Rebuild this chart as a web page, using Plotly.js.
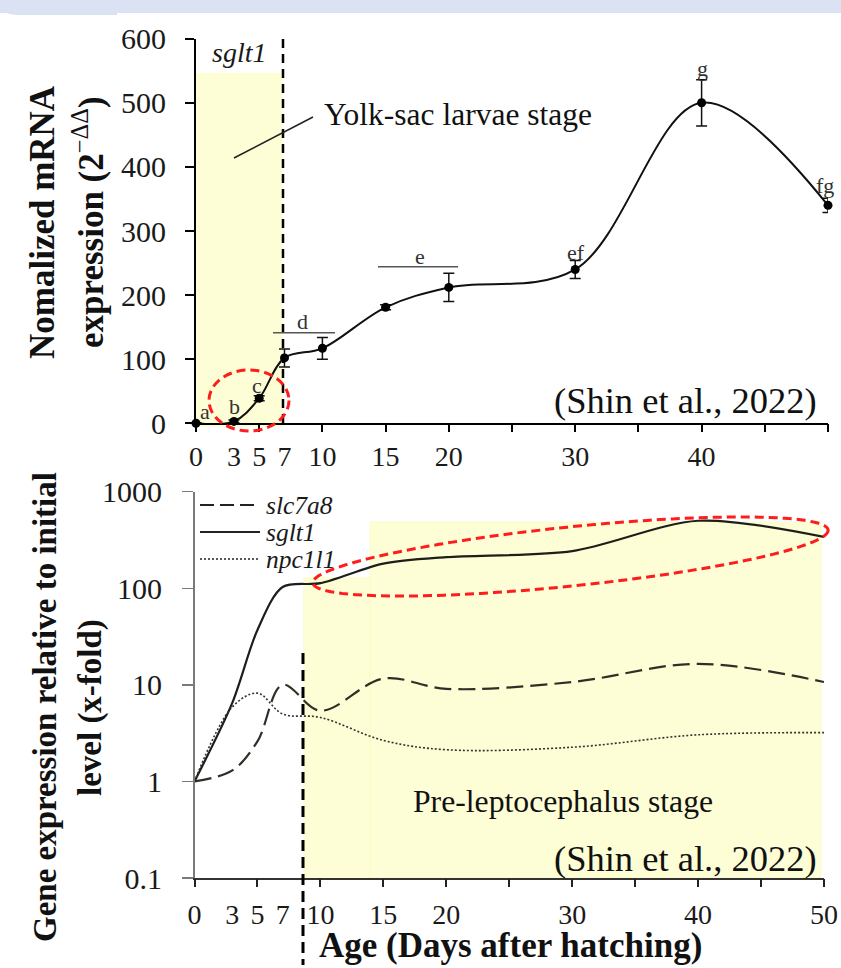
<!DOCTYPE html>
<html>
<head>
<meta charset="utf-8">
<script src="https://cdn.plot.ly/plotly-3.0.1.min.js"></script>
<style>html,body{margin:0;padding:0;background:#fff;}#chart{width:841px;height:968px;}</style>
</head>
<body>
<div id="chart"></div>
<script>
// ---------- DATA ----------
const days = [0, 3, 5, 7, 10, 15, 20, 30, 40, 50];
// Top panel: normalized sglt1 mRNA expression (2^-ddCt)
const sglt1Norm = [0, 3, 39, 102, 117, 181, 212, 240, 500, 340];
const sglt1NormErr = [1, 2, 4, 14, 17, 4, 22, 14, 36, 11];
const sigLetters = ['a', 'b', 'c', 'd', 'e', 'ef', 'g', 'fg'];
// Bottom panel: fold change relative to initial level
const geneNames = ['slc7a8', 'sglt1', 'npc1l1'];
const slc7a8Fold = [1, 1.3, 2.6, 10, 5.4, 11.6, 9.1, 10.7, 16.5, 10.7];
const sglt1Fold = [1, 6.5, 37, 103, 113, 180, 210, 243, 500, 340];
const npc1l1Fold = [1, 5.9, 8.2, 5.0, 4.6, 2.66, 2.13, 2.26, 3.04, 3.2];
// Tick labels
const dayTickVals = [0, 3, 5, 7, 10, 15, 20, 30, 40, 50];
const dayTickText = ['0', '3', '5', '7', '10', '15', '20', '30', '40', '50'];
const dayTickMarks = [0, 5, 10, 15, 20, 25, 30, 35, 40, 45, 50];
const normTickVals = [0, 100, 200, 300, 400, 500, 600];
const foldTickVals = [0.1, 1, 10, 100, 1000];
const foldTickText = ['0.1', '1', '10', '100', '1000'];

// ---------- LAYOUT HELPERS ----------
const W = 841, H = 968;
const X = px => px / W;
const Y = py => 1 - py / H;
const SERIF = 'Liberation Serif';
const YELLOW = '#fefed6';

// letter label positions (pixel space)
const letterPos = [[205, 411], [234, 406], [257, 385], [302, 322], [420, 256], [576, 252], [702, 69], [825, 185]];

const traces = [
  {
    x: days, y: sglt1Norm, xaxis: 'x', yaxis: 'y', type: 'scatter', mode: 'lines+markers',
    line: {color: '#111', width: 2, shape: 'spline', smoothing: 1},
    marker: {color: '#000', size: 9},
    error_y: {type: 'data', array: sglt1NormErr, visible: true, color: '#111', thickness: 1.5, width: 5.5},
    cliponaxis: false, showlegend: false, hoverinfo: 'x+y'
  },
  {
    x: days, y: slc7a8Fold, name: geneNames[0], xaxis: 'x2', yaxis: 'y2', type: 'scatter', mode: 'lines',
    line: {color: '#2f2f28', width: 2.2, dash: '17px,7px', shape: 'spline', smoothing: 1},
    cliponaxis: false, showlegend: false
  },
  {
    x: days, y: sglt1Fold, name: geneNames[1], xaxis: 'x2', yaxis: 'y2', type: 'scatter', mode: 'lines',
    line: {color: '#1e1e1a', width: 2.2, shape: 'spline', smoothing: 0.85},
    cliponaxis: false, showlegend: false
  },
  {
    x: days, y: npc1l1Fold, name: geneNames[2], xaxis: 'x2', yaxis: 'y2', type: 'scatter', mode: 'lines',
    line: {color: '#333', width: 1.6, dash: '2px,2px', shape: 'spline', smoothing: 1},
    cliponaxis: false, showlegend: false
  },
  // empty traces to register the tick-mark overlay axes
  {x: [], y: [], xaxis: 'x3', yaxis: 'y', type: 'scatter', showlegend: false, hoverinfo: 'skip'},
  {x: [], y: [], xaxis: 'x4', yaxis: 'y2', type: 'scatter', showlegend: false, hoverinfo: 'skip'}
];

const shapes = [];
// header band
shapes.push({type: 'rect', xref: 'paper', yref: 'paper', x0: 0, x1: 1, y0: Y(13), y1: 1, fillcolor: '#dae2f3', line: {width: 0}, layer: 'below'});
shapes.push({type: 'path', xref: 'paper', yref: 'paper', layer: 'below', fillcolor: '#dae2f3', line: {width: 0},
  path: `M ${X(0)} ${Y(0)} L ${X(117)} ${Y(0)} L ${X(117)} ${Y(15)} L ${X(18)} ${Y(15)} Q ${X(4)} ${Y(15)} ${X(0)} ${Y(8)} Z`});
// top yolk-sac shaded area
shapes.push({type: 'rect', xref: 'paper', yref: 'paper', x0: X(196), x1: X(283), y0: Y(427), y1: Y(72.7), fillcolor: YELLOW, line: {width: 0}, layer: 'below'});
// bottom pre-leptocephalus shaded areas
shapes.push({type: 'rect', xref: 'paper', yref: 'paper', x0: X(303), x1: X(821), y0: Y(878), y1: Y(577), fillcolor: YELLOW, line: {width: 0}, layer: 'below'});
shapes.push({type: 'rect', xref: 'paper', yref: 'paper', x0: X(370), x1: X(821), y0: Y(878), y1: Y(522), fillcolor: YELLOW, line: {color: '#fbf7b0', width: 0.6}, layer: 'below'});
// stage divider dashed lines
shapes.push({type: 'line', xref: 'paper', yref: 'paper', x0: X(283), x1: X(283), y0: Y(39), y1: Y(423), line: {color: '#000', width: 2.5, dash: '9px,6px'}});
shapes.push({type: 'line', xref: 'paper', yref: 'paper', x0: X(303), x1: X(303), y0: Y(653), y1: Y(965), line: {color: '#000', width: 3, dash: '11px,6px'}});
// significance bracket lines
shapes.push({type: 'line', xref: 'paper', yref: 'paper', x0: X(273), x1: X(335), y0: Y(332.7), y1: Y(332.7), line: {color: '#555', width: 1.5}});
shapes.push({type: 'line', xref: 'paper', yref: 'paper', x0: X(378), x1: X(458), y0: Y(266.7), y1: Y(266.7), line: {color: '#555', width: 1.5}});
// pointer line for yolk-sac label
shapes.push({type: 'line', xref: 'paper', yref: 'paper', x0: X(234), x1: X(313), y0: Y(158), y1: Y(117), line: {color: '#222', width: 1.5}});
// red dashed ellipse (top)
shapes.push({type: 'circle', xref: 'paper', yref: 'paper', x0: X(209), x1: X(289), y0: Y(431), y1: Y(370), line: {color: '#ff1c1c', width: 3, dash: '9px,5px'}});
// red dashed tilted ellipse (bottom)
(function () {
  const cx = 570.5, cy = 556.5, a = 259, b = 29.5, th = Math.atan2(-53, 515);
  let p = '';
  for (let i = 0; i <= 120; i++) {
    const t = 2 * Math.PI * i / 120;
    const ux = a * Math.cos(t), vy = b * Math.sin(t);
    const px = cx + ux * Math.cos(th) - vy * Math.sin(th);
    const py = cy + ux * Math.sin(th) + vy * Math.cos(th);
    p += (i === 0 ? 'M ' : ' L ') + X(px).toFixed(5) + ' ' + Y(py).toFixed(5);
  }
  shapes.push({type: 'path', xref: 'paper', yref: 'paper', path: p + ' Z', line: {color: '#ff1c1c', width: 3, dash: '9px,5px'}});
})();
// custom legend samples
const legendRows = [505, 532, 559];
const legendDash = ['14px,6px', 'solid', '2px,2px'];
const legendWidth = [2, 2, 1.5];
legendRows.forEach((ry, i) => {
  shapes.push({type: 'line', xref: 'paper', yref: 'paper', x0: X(200), x1: X(260), y0: Y(ry), y1: Y(ry), line: {color: '#222', width: legendWidth[i], dash: legendDash[i]}});
});

const annotations = [];
const ann = (text, px, py, opts) => Object.assign({text, xref: 'paper', yref: 'paper', x: X(px), y: Y(py), showarrow: false, xanchor: 'center', yanchor: 'middle', font: {family: SERIF, size: 28, color: '#1a1a1a'}}, opts || {});
// axis titles (top)
annotations.push(ann('<b>Nomalized mRNA</b>', 43, 222, {textangle: -90, font: {family: SERIF, size: 35, color: '#111'}}));
annotations.push(ann('<b>expression (2</b><sup>−ΔΔ</sup><b>)</b>', 89, 222, {textangle: -90, font: {family: SERIF, size: 35, color: '#111'}}));
// axis titles (bottom)
annotations.push(ann('<b>Gene expression relative to initial</b>', 45, 707, {textangle: -90, font: {family: SERIF, size: 33, color: '#111'}}));
annotations.push(ann('<b>level (x-fold)</b>', 90, 708, {textangle: -90, font: {family: SERIF, size: 33, color: '#111'}}));
annotations.push(ann('<b>Age (Days after hatching)</b>', 510, 945, {font: {family: SERIF, size: 35, color: '#111'}}));
// top panel texts
annotations.push(ann('<i>sglt1</i>', 239, 52, {font: {family: SERIF, size: 28, color: '#1a1a1a'}}));
annotations.push(ann('Yolk-sac larvae stage', 322, 115, {xanchor: 'left', font: {family: SERIF, size: 31.5, color: '#111'}}));
annotations.push(ann('(Shin et al., 2022)', 819, 401, {xanchor: 'right', font: {family: SERIF, size: 36.5, color: '#111'}}));
sigLetters.forEach((L, i) => annotations.push(ann(L, letterPos[i][0], letterPos[i][1], {font: {family: SERIF, size: 22, color: '#333'}})));
// bottom panel texts
annotations.push(ann('Pre-leptocephalus stage', 411, 801, {xanchor: 'left', font: {family: SERIF, size: 31.7, color: '#111'}}));
annotations.push(ann('(Shin et al., 2022)', 819, 858, {xanchor: 'right', font: {family: SERIF, size: 36.5, color: '#111'}}));
legendRows.forEach((ry, i) => annotations.push(ann('<i>' + geneNames[i] + '</i>', 264, ry, {xanchor: 'left', font: {family: SERIF, size: 25.5, color: '#1a1a1a'}})));

const baseX = {range: [0, 50], showgrid: false, zeroline: false, fixedrange: true};
const TICKX = {family: SERIF, size: 28, color: '#1a1a1a'};
const TICKY = {family: SERIF, size: 30, color: '#1a1a1a'};
const layout = {
  width: W, height: H,
  margin: {l: 0, r: 0, t: 0, b: 0, pad: 0},
  paper_bgcolor: '#fff', plot_bgcolor: 'rgba(0,0,0,0)',
  showlegend: false,
  font: {family: SERIF, color: '#1a1a1a'},
  xaxis: Object.assign({}, baseX, {domain: [X(196), X(828)], anchor: 'y', tickmode: 'array', tickvals: dayTickVals, ticktext: dayTickText,
    ticks: '', showline: true, linecolor: '#000', linewidth: 2, tickfont: TICKX, ticklabelstandoff: 7}),
  xaxis3: Object.assign({}, baseX, {overlaying: 'x', anchor: 'y', tickmode: 'array', tickvals: dayTickMarks, ticks: 'outside', ticklen: 8, tickwidth: 2,
    tickcolor: '#000', showticklabels: false, showline: false}),
  yaxis: {domain: [Y(423.3), Y(38.7)], range: [0, 600], anchor: 'x', tickmode: 'array', tickvals: normTickVals,
    ticks: 'outside', ticklen: 9, tickwidth: 2, tickcolor: '#000', showline: true, linecolor: '#000', linewidth: 2,
    tickfont: TICKY, showgrid: false, zeroline: false, fixedrange: true, ticklabelstandoff: 13},
  xaxis2: Object.assign({}, baseX, {domain: [X(194.5), X(824)], anchor: 'y2', tickmode: 'array', tickvals: dayTickVals, ticktext: dayTickText,
    ticks: '', showline: true, linecolor: '#333', linewidth: 2, tickfont: TICKX, ticklabelstandoff: 10}),
  xaxis4: Object.assign({}, baseX, {overlaying: 'x2', anchor: 'y2', tickmode: 'array', tickvals: dayTickMarks, ticks: 'outside', ticklen: 8, tickwidth: 2,
    tickcolor: '#222', showticklabels: false, showline: false}),
  yaxis2: {domain: [Y(878), Y(491.7)], type: 'log', range: [-1, 3], anchor: 'x2', tickmode: 'array', tickvals: foldTickVals, ticktext: foldTickText,
    ticks: 'outside', ticklen: 11, tickwidth: 1.5, tickcolor: '#7a7a7a', showline: true, linecolor: '#7a7a7a', linewidth: 1.5,
    tickfont: TICKY, showgrid: false, zeroline: false, fixedrange: true, ticklabelstandoff: 14},
  shapes, annotations
};

Plotly.newPlot('chart', traces, layout, {displayModeBar: false, staticPlot: true});
</script>
</body>
</html>
